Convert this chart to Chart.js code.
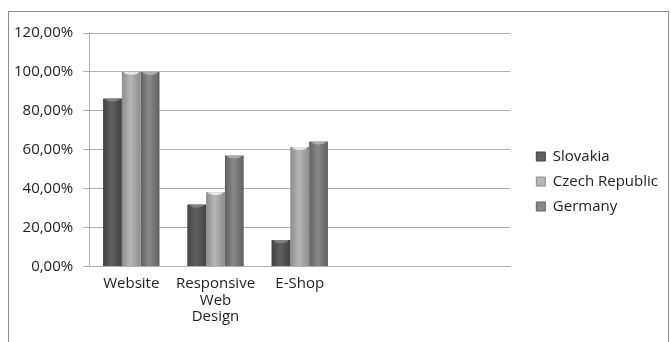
<!DOCTYPE html>
<html>
<head>
<meta charset="utf-8">
<script src="https://cdn.jsdelivr.net/npm/chart.js@4.4.1/dist/chart.umd.min.js"></script>
<style>
    html, body { margin: 0; padding: 0; background: #fff; }
    #wrap { position: relative; width: 671px; height: 342px; }
    #marco {
        position: absolute; left: 8px; top: 11px; width: 659px; height: 340px;
        border: 1px solid #8c8c8c; border-bottom: none;
    }
    canvas { position: absolute; left: 0; top: 0; }
</style>
</head>
<body>
<div id="wrap">
    <div id="marco"></div>
    <canvas id="grafico" width="671" height="342"></canvas>
</div>
<script>
// Datos (porcentajes)
const categorias = ["Website", ["Responsive", "Web", "Design"], "E-Shop", "", ""];
const slovakia   = [86.4, 31.8, 13.6];
const czech      = [100, 38.2, 61.4];
const germany    = [100, 57.1, 64.3];
const ticksY     = [0, 20, 40, 60, 80, 100, 120];

// Colores (borde oscuro, centro claro, brillo superior) de cada serie
const colores = {
    Slovakia:         ["#424242", "#606060", "#8a8a8a"],
    "Czech Republic": ["#8c8c8c", "#b6b6b6", "#f2f2f2"],
    Germany:          ["#616161", "#898989", "#b8b8b8"],
};

// Sombreado cilíndrico: degradado horizontal + brillo en la tapa
const sombreado = {
    id: "sombreado",
    beforeDatasetsDraw(chart) {
        const ctx = chart.ctx;
        chart.data.datasets.forEach((ds, i) => {
            const [osc, cla] = colores[ds.label];
            chart.getDatasetMeta(i).data.forEach((el) => {
                const x0 = el.x - el.width / 2, x1 = el.x + el.width / 2;
                const g = ctx.createLinearGradient(x0, 0, x1, 0);
                g.addColorStop(0, osc);
                g.addColorStop(0.45, cla);
                g.addColorStop(1, osc);
                el.options.backgroundColor = g;
            });
        });
    },
    afterDatasetsDraw(chart) {
        const ctx = chart.ctx;
        chart.data.datasets.forEach((ds, i) => {
            const brillo = colores[ds.label][2];
            chart.getDatasetMeta(i).data.forEach((el) => {
                const rx = el.width / 2 - 2;
                ctx.save();
                ctx.fillStyle = brillo;
                ctx.globalAlpha = 0.8;
                ctx.beginPath();
                ctx.ellipse(el.x, el.y, rx, 3, 0, 0, Math.PI);
                ctx.fill();
                ctx.restore();
            });
        });
    },
};

// Separación extra entre el área del gráfico y la leyenda
const EXTRA = 16;
const hueco = {
    id: "hueco",
    beforeLayout(chart) {
        const lg = chart.legend;
        if (lg && !lg._parcheado) {
            const fit = lg.fit;
            lg.fit = function () { fit.call(this); this.width += EXTRA; };
            lg._parcheado = true;
        }
    },
    afterLayout(chart) {
        const lg = chart.legend;
        if (lg) { lg.left += EXTRA; lg.right += EXTRA; lg.top -= 2; lg.bottom -= 2; }
    },
};

const fuente = { family: "'Open Sans', sans-serif", size: 15, lineHeight: 1.1 };
const texto = "#1e1e1e";

new Chart(document.getElementById("grafico"), {
    type: "bar",
    data: {
        labels: categorias,
        datasets: [
            { label: "Slovakia",       data: slovakia, backgroundColor: () => colores.Slovakia[1] },
            { label: "Czech Republic", data: czech,    backgroundColor: () => colores["Czech Republic"][1] },
            { label: "Germany",        data: germany,  backgroundColor: () => colores.Germany[1] },
        ],
    },
    options: {
        responsive: false,
        animation: false,
        layout: { padding: { top: 33, left: 4, right: 3, bottom: 8 } },
        datasets: {
            bar: { barPercentage: 1, categoryPercentage: 0.67, borderWidth: 0 },
        },
        scales: {
            x: {
                grid: { display: false, drawTicks: false },
                border: { color: "#b0b0b0" },
                ticks: { color: texto, font: fuente, padding: 9, maxRotation: 0, autoSkip: false },
            },
            y: {
                min: 0, max: 120,
                afterBuildTicks: (ax) => { ax.ticks = ticksY.map((v) => ({ value: v })); },
                grid: { color: "#b0b0b0", tickLength: 6 },
                border: { color: "#b0b0b0" },
                ticks: {
                    color: texto, font: fuente, padding: 10,
                    callback: (v) => v.toFixed(2).replace(".", ",") + "%",
                },
            },
        },
        plugins: {
            tooltip: { enabled: false },
            legend: {
                position: "right",
                labels: {
                    color: texto, font: { family: fuente.family, size: 15 },
                    boxWidth: 9, boxHeight: 9, padding: 10,
                    generateLabels: (chart) => chart.data.datasets.map((ds, i) => ({
                        text: ds.label,
                        fillStyle: colores[ds.label][1],
                        strokeStyle: colores[ds.label][0],
                        lineWidth: 1,
                        fontColor: texto,
                        datasetIndex: i,
                    })),
                },
            },
        },
    },
    plugins: [sombreado, hueco],
});
</script>
</body>
</html>
